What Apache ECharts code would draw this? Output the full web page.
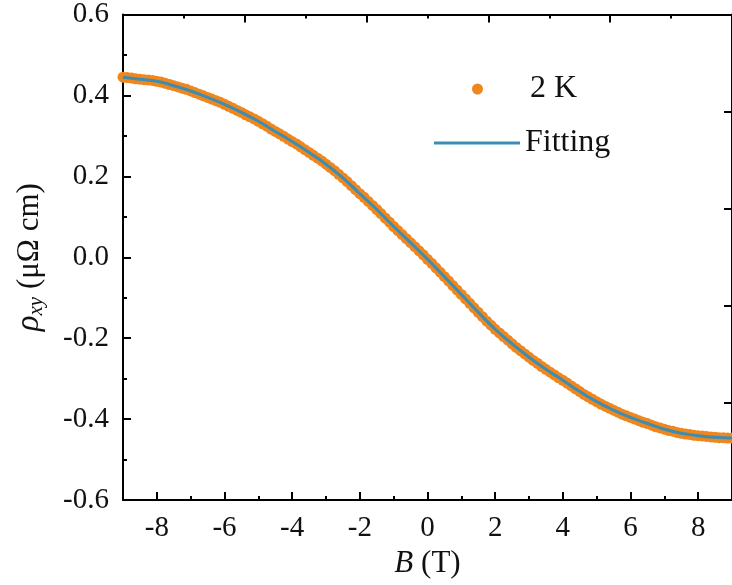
<!DOCTYPE html>
<html>
<head>
<meta charset="utf-8">
<script src="https://cdn.jsdelivr.net/npm/echarts@6/dist/echarts.min.js"></script>
<style>
  html, body { margin: 0; padding: 0; background: #fff; }
  #hall { width: 732px; height: 585px; }
</style>
</head>
<body>
<div id="hall"></div>
<script>
// magnetic field (T), read every 0.125 T
const fieldB = [
  -9, -8.875, -8.75, -8.625, -8.5, -8.375, -8.25, -8.125,
  -8, -7.875, -7.75, -7.625, -7.5, -7.375, -7.25, -7.125,
  -7, -6.875, -6.75, -6.625, -6.5, -6.375, -6.25, -6.125,
  -6, -5.875, -5.75, -5.625, -5.5, -5.375, -5.25, -5.125,
  -5, -4.875, -4.75, -4.625, -4.5, -4.375, -4.25, -4.125,
  -4, -3.875, -3.75, -3.625, -3.5, -3.375, -3.25, -3.125,
  -3, -2.875, -2.75, -2.625, -2.5, -2.375, -2.25, -2.125,
  -2, -1.875, -1.75, -1.625, -1.5, -1.375, -1.25, -1.125,
  -1, -0.875, -0.75, -0.625, -0.5, -0.375, -0.25, -0.125,
  0, 0.125, 0.25, 0.375, 0.5, 0.625, 0.75, 0.875,
  1, 1.125, 1.25, 1.375, 1.5, 1.625, 1.75, 1.875,
  2, 2.125, 2.25, 2.375, 2.5, 2.625, 2.75, 2.875,
  3, 3.125, 3.25, 3.375, 3.5, 3.625, 3.75, 3.875,
  4, 4.125, 4.25, 4.375, 4.5, 4.625, 4.75, 4.875,
  5, 5.125, 5.25, 5.375, 5.5, 5.625, 5.75, 5.875,
  6, 6.125, 6.25, 6.375, 6.5, 6.625, 6.75, 6.875,
  7, 7.125, 7.25, 7.375, 7.5, 7.625, 7.75, 7.875,
  8, 8.125, 8.25, 8.375, 8.5, 8.625, 8.75, 8.875, 9
];
// rho_xy at 2 K (uOhm cm)
const rho2K = [
  0.445, 0.444, 0.443, 0.441, 0.440, 0.439, 0.438, 0.437,
  0.435, 0.433, 0.430, 0.427, 0.424, 0.421, 0.418, 0.415,
  0.411, 0.407, 0.403, 0.399, 0.395, 0.391, 0.387, 0.383,
  0.378, 0.373, 0.368, 0.363, 0.358, 0.352, 0.347, 0.342,
  0.336, 0.330, 0.324, 0.317, 0.311, 0.305, 0.299, 0.292,
  0.286, 0.280, 0.273, 0.266, 0.259, 0.252, 0.245, 0.238,
  0.230, 0.222, 0.214, 0.205, 0.196, 0.187, 0.177, 0.167,
  0.157, 0.148, 0.138, 0.128, 0.118, 0.108, 0.097, 0.087,
  0.076, 0.066, 0.056, 0.046, 0.036, 0.026, 0.016, 0.006,
  -0.005, -0.015, -0.026, -0.037, -0.048, -0.059, -0.070, -0.081,
  -0.092, -0.103, -0.114, -0.125, -0.136, -0.147, -0.158, -0.168,
  -0.178, -0.187, -0.196, -0.205, -0.214, -0.223, -0.231, -0.239,
  -0.247, -0.255, -0.262, -0.270, -0.277, -0.284, -0.291, -0.298,
  -0.304, -0.311, -0.318, -0.325, -0.332, -0.339, -0.345, -0.351,
  -0.357, -0.363, -0.368, -0.373, -0.378, -0.383, -0.388, -0.392,
  -0.396, -0.400, -0.404, -0.408, -0.411, -0.415, -0.419, -0.422,
  -0.425, -0.428, -0.430, -0.433, -0.435, -0.437, -0.438, -0.440,
  -0.441, -0.442, -0.443, -0.444, -0.445, -0.446, -0.446, -0.447, -0.447
];
// fitted curve, every 0.5 T
const fitB = [
  -9, -8.5, -8, -7.5, -7, -6.5, -6, -5.5, -5, -4.5, -4, -3.5, -3, -2.5, -2, -1.5, -1, -0.5,
  0, 0.5, 1, 1.5, 2, 2.5, 3, 3.5, 4, 4.5, 5, 5.5, 6, 6.5, 7, 7.5, 8, 8.5, 9
];
const fitRho = [
  0.445, 0.440, 0.435, 0.424, 0.411, 0.395, 0.378, 0.358, 0.336, 0.311, 0.286, 0.259, 0.230, 0.196, 0.157, 0.118, 0.076, 0.036,
  -0.005, -0.048, -0.092, -0.136, -0.178, -0.214, -0.247, -0.277, -0.304, -0.332, -0.357, -0.378, -0.396, -0.411, -0.425, -0.435, -0.441, -0.445, -0.447
];
const xMajor = [-8, -6, -4, -2, 0, 2, 4, 6, 8];
const xMinor = [-9, -7, -5, -3, -1, 1, 3, 5, 7, 9];

const font = "'Liberation Serif', 'Times New Roman', serif";
const orange = "#f0871e";
const blue = "#3b8db3";
const black = { color: "#000", width: 2 };

let chart = echarts.init(document.getElementById("hall"));
chart.setOption({
  animation: false,
  textStyle: { fontFamily: font, color: "#111" },
  grid: { left: 123, top: 14, width: 614, height: 486, containLabel: false },
  legend: [
    {
      data: ["2 K"],
      left: 472,
      top: 73,
      padding: 0,
      icon: "circle",
      itemWidth: 11,
      itemHeight: 11,
      textStyle: { fontFamily: font, fontSize: 32, color: "#111", padding: [0, 0, 0, 42] }
    },
    {
      data: [{ name: "Fitting", icon: "rect" }],
      left: 434,
      top: 127,
      padding: 0,
      itemWidth: 86,
      itemHeight: 3,
      itemStyle: { color: blue },
      textStyle: { fontFamily: font, fontSize: 32, color: "#111" }
    }
  ],
  xAxis: [
    {
      type: "value",
      position: "bottom",
      min: -9,
      max: 9,
      name: "{i|B} (T)",
      nameLocation: "middle",
      nameGap: 48,
      nameTextStyle: {
        fontFamily: font,
        fontSize: 31,
        color: "#111",
        rich: { i: { fontFamily: font, fontSize: 31, fontStyle: "italic", color: "#111" } }
      },
      axisLine: { onZero: false, lineStyle: black },
      axisTick: { inside: true, length: 8, lineStyle: black, customValues: xMajor },
      axisLabel: { customValues: xMajor, fontFamily: font, fontSize: 29, color: "#111", margin: 14 },
      splitLine: { show: false }
    },
    {
      type: "value",
      position: "bottom",
      min: -9,
      max: 9,
      axisLine: { show: false, onZero: false },
      axisTick: { inside: true, length: 4, lineStyle: black, customValues: xMinor },
      axisLabel: { show: false },
      splitLine: { show: false }
    },
    {
      type: "value",
      position: "top",
      min: 0,
      max: 5,
      interval: 1,
      axisLine: { onZero: false, lineStyle: black },
      axisTick: { inside: true, length: 8, lineStyle: black },
      minorTick: { show: true, splitNumber: 2, length: 4, lineStyle: black },
      axisLabel: { show: false },
      splitLine: { show: false }
    }
  ],
  yAxis: [
    {
      type: "value",
      position: "left",
      min: -0.6,
      max: 0.6,
      interval: 0.2,
      name: "{i|ρ}{s|xy} (μΩ cm)",
      nameLocation: "middle",
      nameGap: 76,
      nameRotate: 90,
      nameTextStyle: {
        fontFamily: font,
        fontSize: 31,
        color: "#111",
        rich: {
          i: { fontFamily: font, fontSize: 33, fontStyle: "italic", color: "#111" },
          s: { fontFamily: font, fontSize: 21, fontStyle: "italic", color: "#111", verticalAlign: "bottom", padding: [14, 0, 0, 0] }
        }
      },
      axisLine: { onZero: false, lineStyle: black },
      axisTick: { inside: true, length: 8, lineStyle: black },
      minorTick: { show: true, splitNumber: 2, length: 4, lineStyle: black },
      axisLabel: {
        fontFamily: font,
        fontSize: 29,
        color: "#111",
        margin: 14,
        formatter: function(v) { return v.toFixed(1); }
      },
      splitLine: { show: false }
    },
    {
      type: "value",
      position: "right",
      min: 0,
      max: 5,
      interval: 1,
      axisLine: { onZero: false, lineStyle: black },
      axisTick: { inside: true, length: 8, lineStyle: black },
      axisLabel: { show: false },
      splitLine: { show: false }
    }
  ],
  series: [
    {
      name: "2 K",
      type: "scatter",
      xAxisIndex: 0,
      yAxisIndex: 0,
      symbol: "circle",
      symbolSize: 11,
      itemStyle: { color: orange, opacity: 1 },
      data: fieldB.map((b, i) => [b, rho2K[i]])
    },
    {
      name: "Fitting",
      type: "line",
      xAxisIndex: 0,
      yAxisIndex: 0,
      smooth: true,
      symbol: "none",
      showSymbol: false,
      lineStyle: { color: blue, width: 3 },
      itemStyle: { color: blue },
      data: fitB.map((b, i) => [b, fitRho[i]])
    }
  ]
});
</script>
</body>
</html>
